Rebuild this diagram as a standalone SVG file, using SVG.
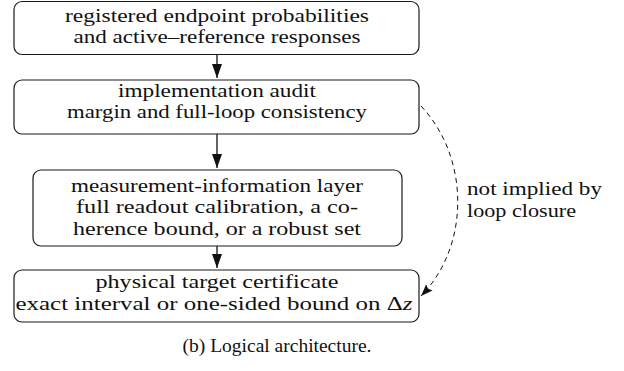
<svg xmlns="http://www.w3.org/2000/svg" width="624" height="371" viewBox="0 0 624 371">
<defs>
<style>
.box{fill:#fff;stroke:#1a1a1a;stroke-width:1.2}
.t{font-family:'Liberation Serif','Times New Roman',serif;font-size:19px;fill:#111;text-anchor:middle}
.lbl{font-family:'Liberation Serif','Times New Roman',serif;font-size:19px;fill:#111}
.cap{font-family:'Liberation Serif','Times New Roman',serif;font-size:19.5px;fill:#111;text-anchor:middle}
.edge{fill:none;stroke:#111;stroke-width:1.3}
.dash{fill:none;stroke:#111;stroke-width:1;stroke-dasharray:5 4}
</style>
<marker id="ah" markerUnits="userSpaceOnUse" markerWidth="14" markerHeight="10" refX="14" refY="5" orient="auto">
<path d="M0,0 L14,5 L0,10 z" fill="#111"/>
</marker>
<marker id="ah2" markerUnits="userSpaceOnUse" markerWidth="12" markerHeight="9" refX="12" refY="4.5" orient="auto">
<path d="M0,0 L12,4.5 L0,9 L2,4.5 z" fill="#111"/>
</marker>
</defs>
<g id="n1">
<rect class="box" x="14" y="1.5" width="405" height="53" rx="8"/>
<text class="t" x="217" y="22" textLength="304" lengthAdjust="spacingAndGlyphs">registered endpoint probabilities</text>
<text class="t" x="217" y="43" textLength="287" lengthAdjust="spacingAndGlyphs">and active–reference responses</text>
</g>
<g id="n2">
<rect class="box" x="14" y="80" width="405" height="54" rx="8"/>
<text class="t" x="217" y="97" textLength="198" lengthAdjust="spacingAndGlyphs">implementation audit</text>
<text class="t" x="217" y="118" textLength="300" lengthAdjust="spacingAndGlyphs">margin and full-loop consistency</text>
</g>
<g id="n3">
<rect class="box" x="33" y="170" width="369" height="76" rx="8"/>
<text class="t" x="217" y="192" textLength="292" lengthAdjust="spacingAndGlyphs">measurement-information layer</text>
<text class="t" x="217" y="213" textLength="282" lengthAdjust="spacingAndGlyphs">full readout calibration, a co-</text>
<text class="t" x="217" y="235" textLength="288" lengthAdjust="spacingAndGlyphs">herence bound, or a robust set</text>
</g>
<g id="n4">
<rect class="box" x="14" y="270" width="405" height="52" rx="8"/>
<text class="t" x="217" y="288" textLength="243" lengthAdjust="spacingAndGlyphs">physical target certificate</text>
<text class="t" x="214" y="310" textLength="397" lengthAdjust="spacingAndGlyphs">exact interval or one-sided bound on Δ<tspan font-style="italic">z</tspan></text>
</g>
<g id="edges">
<line class="edge" x1="217" y1="54.5" x2="217" y2="78" marker-end="url(#ah)"/>
<line class="edge" x1="217" y1="134" x2="217" y2="168" marker-end="url(#ah)"/>
<line class="edge" x1="217" y1="246" x2="217" y2="268" marker-end="url(#ah)"/>
<path class="dash" d="M421,106 C470,158 470,246 421,296" marker-end="url(#ah2)"/>
<text class="lbl" x="467" y="195" textLength="135" lengthAdjust="spacingAndGlyphs">not implied by</text>
<text class="lbl" x="467" y="217" textLength="109" lengthAdjust="spacingAndGlyphs">loop closure</text>
</g>
<text class="cap" x="277" y="352">(b) Logical architecture.</text>
</svg>
